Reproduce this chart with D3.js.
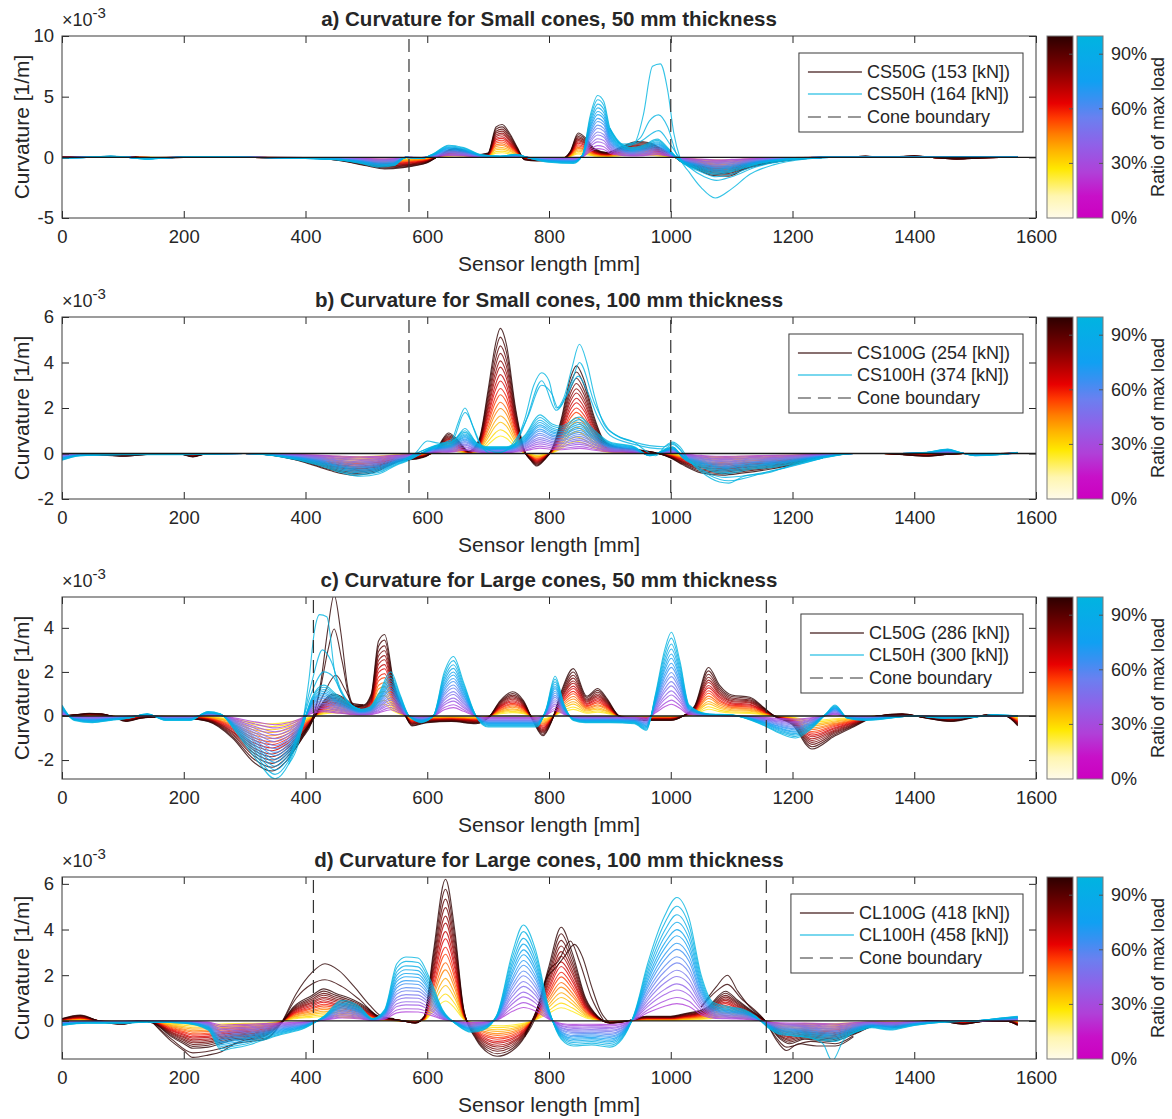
<!DOCTYPE html>
<html><head><meta charset="utf-8">
<script src="https://cdn.jsdelivr.net/npm/d3@7"></script>
<style>
body{margin:0;background:#fff}
svg{display:block}
text{font-family:"Liberation Sans",Arial,Helvetica,sans-serif;fill:#262626}
</style>
</head><body>
<svg id="chart" width="1172" height="1119"></svg>
<script>
// ---------------- DATA ----------------
const xTicks = [0,200,400,600,800,1000,1200,1400,1600];
const colorbarTicks = [0, 0.3, 0.6, 0.9];
const colorbarTickLabels = ["0%","30%","60%","90%"];
const loadRatios = [0.25,0.30,0.35,0.40,0.45,0.50,0.55,0.60,0.65,0.70,0.75,0.80,0.85,0.90,0.95,1.00];
const curvatureScales = [0.14,0.19,0.25,0.30,0.36,0.41,0.47,0.52,0.58,0.63,0.69,0.74,0.80,0.86,0.93,1.00];

const gColorStops = [[0,"#fffbea"],[0.12,"#fff6b0"],[0.27,"#ffe800"],[0.37,"#ffb400"],[0.46,"#ff7d00"],[0.55,"#ff3a00"],[0.63,"#e80000"],[0.82,"#800000"],[1,"#2c0000"]];
const hColorStops = [[0,"#cc00c0"],[0.12,"#c810c8"],[0.25,"#b040d8"],[0.4,"#9060e8"],[0.55,"#6a80f0"],[0.65,"#3a90f2"],[0.75,"#10a0f2"],[1,"#00b4e0"]];

const panelTitles = [
  "a) Curvature for Small cones, 50 mm thickness",
  "b) Curvature for Small cones, 100 mm thickness",
  "c) Curvature for Large cones, 50 mm thickness",
  "d) Curvature for Large cones, 100 mm thickness"];
const gLabels = ["CS50G (153 [kN])","CS100G (254 [kN])","CL50G (286 [kN])","CL100G (418 [kN])"];
const hLabels = ["CS50H (164 [kN])","CS100H (374 [kN])","CL50H (300 [kN])","CL100H (458 [kN])"];
const coneLabel = "Cone boundary";
const yDomains = [[-5,10],[-2,6],[-2.86,5.4],[-1.67,6.3]];
const yTickValues = [[-5,0,5,10],[-2,0,2,4,6],[-2,0,2,4],[0,2,4,6]];
const coneBoundaries = [[570,1000],[570,1000],[413,1157],[413,1157]];

// curvature (x10^-3 1/m) vs sensor length (mm), shape at max load
const csG50 = [[0,0],[40,0.02],[80,0.08],[120,0],[160,-0.05],[200,0],[240,0.03],[300,0],[360,-0.05],[420,-0.1],[460,-0.3],[500,-0.7],[530,-0.95],[560,-0.85],[580,-0.7],[600,-0.45],[615,0],[630,0.5],[645,0.75],[660,0.6],[680,0.2],[700,0.35],[713,2.5],[723,2.7],[735,2.0],[748,0.8],[760,-0.2],[780,-0.3],[820,-0.2],[835,0.5],[848,2.0],[860,1.6],[875,0.7],[895,0.4],[920,0.9],[945,1.3],[965,1.2],[985,0.7],[1000,0.3],[1015,-0.3],[1040,-0.9],[1070,-1.5],[1095,-1.55],[1120,-1.0],[1150,-0.6],[1200,-0.2],[1250,0],[1300,0.05],[1320,0.1],[1350,0],[1400,0.12],[1430,0],[1470,-0.15],[1510,-0.05],[1540,0],[1570,0.05]];
const csH50 = [[0,-0.05],[40,0],[80,0.1],[110,0],[140,-0.15],[170,-0.05],[230,0.05],[300,0],[400,-0.1],[450,-0.2],[490,-0.5],[520,-0.8],[545,-0.7],[565,0],[590,-0.1],[610,0.3],[635,1.0],[660,0.8],[690,0.2],[720,0.1],[745,0.25],[770,-0.1],[800,-0.4],[840,-0.5],[855,0.2],[868,3.5],[880,5.1],[890,4.6],[900,2.4],[915,1.2],[935,0.8],[955,1.0],[978,1.5],[995,0.8],[1015,-0.3],[1045,-1.0],[1075,-1.4],[1100,-1.2],[1140,-0.6],[1200,-0.15],[1250,0],[1570,0]];
const csH50Top = [
  {r:1.00, pts:[[900,2.4],[920,1.1],[940,1.2],[955,3.5],[970,7.5],[983,7.7],[995,5.5],[1005,2.0],[1015,0],[1030,-1.2],[1050,-2.5],[1073,-3.35],[1100,-2.6],[1130,-1.4],[1170,-0.6],[1220,-0.15],[1260,0]]},
  {r:0.98, pts:[[900,2.4],[925,1.0],[950,1.6],[965,3.0],[980,3.5],[995,2.5],[1010,0.2],[1030,-0.8],[1055,-1.6],[1075,-1.9],[1100,-1.6],[1140,-0.8],[1200,-0.2],[1260,0]]},
  {r:0.96, pts:[[900,2.3],[925,0.9],[950,1.3],[980,2.2],[1000,1.0],[1020,-0.4],[1050,-1.2],[1075,-1.6],[1100,-1.4],[1140,-0.7],[1200,-0.2],[1260,0]]}];

const csG100 = [[0,-0.05],[50,-0.05],[100,-0.12],[150,-0.02],[190,0],[215,-0.15],[240,0],[300,0],[350,-0.1],[400,-0.4],[440,-0.75],[480,-0.95],[510,-0.85],[540,-0.5],[560,-0.3],[580,-0.25],[600,-0.1],[615,0.2],[635,0.9],[650,0.6],[668,0.1],[685,0.6],[700,2.8],[712,4.8],[720,5.5],[730,4.8],[745,2.0],[760,0.1],[770,-0.3],[780,-0.55],[792,-0.3],[805,0.2],[820,1.5],[835,3.3],[845,3.85],[858,3.2],[872,1.8],[890,0.6],[910,0.3],[950,0.15],[980,0],[1000,-0.2],[1020,-0.5],[1050,-0.85],[1085,-0.95],[1120,-0.85],[1160,-0.7],[1200,-0.5],[1240,-0.2],[1280,0],[1350,0],[1380,-0.05],[1420,-0.12],[1450,-0.05],[1480,0],[1540,0],[1570,0.02]];
const csH100 = [[0,-0.3],[30,-0.1],[100,-0.05],[200,-0.05],[300,0],[360,-0.15],[420,-0.5],[460,-0.85],[490,-1.0],[520,-0.9],[550,-0.5],[570,-0.3],[590,0],[610,0.3],[640,0.5],[662,1.0],[680,0.5],[700,0.3],[730,0.3],[760,0.8],[785,1.7],[805,1.3],[820,1.2],[850,1.6],[875,1.0],[900,0.5],[940,0.3],[965,-0.1],[985,0.1],[1003,0.3],[1020,-0.2],[1050,-0.6],[1090,-0.9],[1130,-0.7],[1170,-0.6],[1210,-0.4],[1260,-0.15],[1300,0],[1380,0],[1420,0.05],[1455,0.2],[1475,0.05],[1500,-0.1],[1540,-0.05],[1570,0.05]];
const csH100Top = [
  {r:1.00, pts:[[560,-0.3],[580,0],[600,0.55],[620,0.45],[640,0.6],[650,1.3],[662,2.0],[675,1.2],[690,0.3],[705,0.0],[720,0.05],[740,0.3],[760,1.5],[775,3.0],[788,3.55],[800,3.2],[812,2.0],[825,2.5],[838,3.8],[850,4.8],[862,4.0],[875,2.5],[890,1.3],[910,0.8],[940,0.5],[960,0.1],[975,-0.1],[990,0.3],[1003,0.5],[1015,0.3],[1030,-0.3],[1050,-0.8],[1080,-1.25],[1095,-1.3],[1120,-1.0],[1160,-0.85],[1200,-0.5],[1250,-0.2]]},
  {r:0.98, pts:[[560,-0.3],[590,0.1],[620,0.4],[640,0.5],[662,1.8],[690,0.3],[720,0.05],[760,1.3],[788,3.2],[812,1.9],[838,3.2],[850,4.0],[875,2.2],[900,1.0],[940,0.5],[990,0.3],[1003,0.45],[1030,-0.3],[1095,-1.2],[1160,-0.8],[1250,-0.2]]},
  {r:0.96, pts:[[560,-0.3],[590,0.1],[620,0.4],[645,0.6],[662,1.1],[680,0.5],[700,0.2],[740,0.3],[765,1.6],[788,3.0],[805,2.6],[815,2.0],[830,2.6],[848,3.4],[862,2.8],[880,1.6],[900,0.8],[940,0.4],[990,0.2],[1003,0.4],[1030,-0.3],[1090,-1.05],[1160,-0.8],[1250,-0.2]]}];

const clG50 = [[0,0],[20,0.05],[45,0.12],[65,0.1],[85,-0.05],[105,-0.25],[130,-0.1],[150,-0.05],[200,-0.1],[240,-0.25],[280,-1.0],[315,-2.1],[345,-2.5],[370,-2.0],[390,-1.2],[410,-0.3],[425,0.5],[445,1.0],[465,0.8],[480,0.5],[495,0.5],[508,1.0],[520,3.4],[530,3.7],[545,1.5],[560,0.3],[575,-0.45],[600,-0.3],[640,-0.25],[680,-0.35],[700,-0.1],[720,0.7],[740,1.1],[758,0.7],[775,-0.3],[790,-0.9],[805,-0.2],[820,1.1],[840,2.15],[862,0.9],[880,1.25],[895,0.8],[915,0],[940,-0.2],[1000,-0.2],[1020,0],[1040,0.5],[1062,2.2],[1080,1.4],[1100,0.95],[1130,0.85],[1150,0.45],[1170,0],[1200,-0.4],[1232,-1.5],[1270,-0.9],[1300,-0.5],[1340,0],[1380,0.1],[1420,-0.1],[1460,-0.25],[1500,-0.05],[1520,0.05],[1550,0],[1570,-0.45]];
const clG50Top = [
  {r:1.00, pts:[[375,-1.8],[395,-1.0],[410,-0.3],[425,1.5],[437,4.0],[447,5.5],[458,3.8],[470,1.2],[482,0.4],[495,0.5]]},
  {r:0.98, pts:[[375,-1.6],[395,-0.9],[410,-0.2],[425,1.3],[437,3.0],[447,3.95],[460,2.5],[475,0.6],[495,0.5]]},
  {r:0.96, pts:[[375,-1.5],[395,-0.8],[410,-0.2],[430,1.0],[450,1.85],[465,1.2],[480,0.5],[495,0.5]]}];
const clH50 = [[0,0.5],[20,-0.2],[50,-0.3],[80,-0.2],[110,-0.1],[140,0.1],[170,-0.2],[210,-0.2],[240,0.2],[260,0.1],[285,-0.7],[320,-2.0],[350,-2.85],[372,-2.2],[392,-0.8],[410,0.8],[430,1.4],[450,1.0],[470,0.6],[490,0.3],[505,0.4],[520,1.0],[540,2.0],[555,1.0],[570,0],[590,-0.3],[610,0],[628,2.0],[643,2.7],[660,1.5],[680,0],[700,-0.5],[740,-0.5],[780,-0.5],[795,0.3],[810,1.8],[825,0.5],[840,-0.2],[860,-0.3],[900,-0.3],[940,-0.35],[960,-0.65],[975,1.0],[990,3.0],[1001,3.8],[1015,2.5],[1030,0.5],[1060,0.1],[1100,0.05],[1150,-0.4],[1180,-0.8],[1205,-1.0],[1230,-0.6],[1255,0.1],[1270,0.5],[1290,-0.1],[1320,-0.2],[1400,0],[1450,-0.1],[1500,-0.05],[1530,0.05],[1570,0]];
const clH50Top = [
  {r:1.00, pts:[[372,-2.2],[392,-0.8],[405,1.5],[415,3.9],[423,4.6],[435,4.5],[448,2.0],[465,0.8],[490,0.3]]},
  {r:0.98, pts:[[372,-2.1],[392,-0.6],[410,1.5],[428,3.0],[442,2.5],[458,1.2],[475,0.5],[490,0.3]]},
  {r:0.96, pts:[[372,-2.0],[392,-0.5],[412,1.2],[430,2.0],[445,1.8],[460,1.0],[480,0.4],[490,0.3]]}];

const clG100 = [[0,0.1],[30,0.25],[60,0],[100,-0.15],[130,0],[150,-0.1],[180,-0.7],[200,-1.0],[215,-1.2],[240,-1.15],[260,-1.0],[280,-0.85],[300,-0.8],[330,-0.7],[360,-0.1],[380,0.6],[410,1.1],[430,1.4],[450,1.2],[480,0.9],[500,0.6],[520,0.2],[540,0.1],[560,0.0],[580,-0.1],[595,0.2],[610,3.0],[630,6.2],[645,4.0],[660,0.5],[680,-0.8],[700,-1.4],[715,-1.55],[740,-1.3],[760,-0.7],[780,0.5],[800,2.4],[820,4.1],[838,3.0],[860,1.0],[880,0.2],[900,-0.1],[930,0.0],[960,0.2],[1000,0.2],[1020,0.3],[1060,0.6],[1090,1.3],[1110,0.9],[1130,0.5],[1155,0],[1180,-0.8],[1195,-1.0],[1220,-0.8],[1260,-0.9],[1300,-0.6],[1340,-0.2],[1370,-0.3],[1400,-0.1],[1440,0.0],[1480,-0.15],[1520,0],[1550,0],[1570,-0.2]];
const clG100Top = [
  {r:1.00, pts:[[150,-0.1],[180,-0.9],[200,-1.3],[215,-1.6],[240,-1.5],[262,-1.35],[285,-1.0],[310,-0.9],[335,-0.8],[360,-0.1],[385,1.2],[410,2.1],[432,2.5],[455,2.2],[480,1.5],[505,0.7],[525,0.2],[545,0.1]]},
  {r:0.98, pts:[[150,-0.1],[180,-0.8],[215,-1.4],[262,-1.2],[300,-0.85],[335,-0.75],[360,-0.1],[385,1.0],[410,1.6],[432,1.8],[460,1.5],[490,0.9],[520,0.2],[545,0.1]]},
  {r:1.00, pts:[[760,-0.7],[780,0.3],[795,1.8],[810,2.3],[825,2.8],[842,3.35],[855,2.8],[870,1.5],[885,0.4],[900,-0.1]]},
  {r:0.98, pts:[[760,-0.6],[780,0.5],[800,2.2],[815,2.6],[835,3.5],[850,2.6],[870,1.0],[890,0.0]]},
  {r:1.00, pts:[[1050,0.6],[1075,1.5],[1093,2.0],[1110,1.3],[1130,0.6],[1155,0],[1175,-0.9],[1190,-1.3],[1210,-1.0],[1240,-1.1],[1270,-1.1],[1300,-0.7]]},
  {r:0.98, pts:[[1050,0.6],[1075,1.3],[1093,1.6],[1115,1.0],[1155,0],[1175,-0.8],[1190,-1.15],[1230,-0.9],[1270,-1.0],[1300,-0.65]]}];
const clH100 = [[0,-0.2],[40,-0.1],[100,-0.1],[140,-0.05],[200,-0.1],[240,-0.4],[262,-1.3],[280,-1.2],[300,-1.1],[330,-0.85],[360,-0.6],[400,-0.3],[430,0.2],[460,0.9],[490,0.6],[510,0.1],[530,0.5],[550,2.5],[565,2.8],[585,2.75],[605,1.8],[625,0.5],[650,-0.2],[672,-0.5],[692,-0.4],[715,0.3],[740,3.0],[758,4.2],[778,3.1],[800,0.5],[820,-0.8],[840,-1.1],[870,-1.05],[900,-1.15],[920,-0.8],[940,0.3],[962,2.5],[990,4.6],[1010,5.4],[1030,4.5],[1050,2.0],[1070,0.8],[1100,0.6],[1120,0.5],[1140,0.2],[1160,-0.3],[1180,-0.6],[1220,-0.7],[1250,-0.85],[1270,-0.9],[1295,-0.6],[1330,-0.3],[1360,-0.4],[1400,-0.2],[1450,-0.05],[1500,0],[1550,0.15],[1570,0.2]];
const clH100Top = [
  {r:1.00, pts:[[1200,-0.65],[1230,-0.75],[1250,-1.0],[1265,-1.75],[1285,-0.8],[1320,-0.35]]}];

const gSeries = [csG50, csG100, clG50, clG100];
const hSeries = [csH50, csH100, clH50, clH100];
const gTop = [[], [], clG50Top, clG100Top];
const hTop = [csH50Top, csH100Top, clH50Top, clH100Top];

// ---------------- DRAW ----------------
const svg = d3.select("#chart");
const defs = svg.append("defs");
const panelTops = [36, 317, 597, 877];
const plotH = 182, left = 62, right = 1036;
const gBar = [1047, 1073], hBar = [1077, 1103];
const axisColor = "#262626";
const fmt = d => String(d);

function cmap(stops){
  return d3.scaleLinear().domain(stops.map(s=>s[0])).range(stops.map(s=>s[1])).interpolate(d3.interpolateRgb).clamp(true);
}
const gColor = cmap(gColorStops), hColor = cmap(hColorStops);

function gradient(id, stops){
  const lg = defs.append("linearGradient").attr("id", id).attr("x1",0).attr("y1",1).attr("x2",0).attr("y2",0);
  stops.forEach(s=>lg.append("stop").attr("offset", s[0]).attr("stop-color", s[1]));
}
gradient("gradG", gColorStops);
gradient("gradH", hColorStops);

const x = d3.scaleLinear().domain([0,1600]).range([left,right]);

panelTops.forEach((top, i) => {
  const bottom = top + plotH;
  const y = d3.scaleLinear().domain(yDomains[i]).range([bottom, top]);
  const g = svg.append("g");
  defs.append("clipPath").attr("id","clip"+i).append("rect")
    .attr("x", left).attr("y", top).attr("width", right-left).attr("height", plotH);
  const line = d3.line().x(d=>x(d[0])).y(d=>y(d[1])).curve(d3.curveMonotoneX);
  const plot = g.append("g").attr("clip-path", `url(#clip${i})`);

  function drawSeries(base, tops, color){
    loadRatios.forEach((r,k) => {
      plot.append("path").attr("d", line(base.map(p=>[p[0], p[1]*curvatureScales[k]])))
        .attr("fill","none").attr("stroke", color(r)).attr("stroke-width",1.1).attr("stroke-opacity",0.8);
    });
    tops.forEach(t => {
      plot.append("path").attr("d", line(t.pts))
        .attr("fill","none").attr("stroke", color(t.r)).attr("stroke-width",1.1).attr("stroke-opacity",0.8);
    });
  }
  drawSeries(gSeries[i], gTop[i], gColor);
  drawSeries(hSeries[i], hTop[i], hColor);

  // zero line
  plot.append("line").attr("x1", left).attr("x2", right).attr("y1", y(0)).attr("y2", y(0))
    .attr("stroke","#1a1a1a").attr("stroke-width",1.3);
  // cone boundaries
  coneBoundaries[i].forEach(c => {
    g.append("line").attr("x1", x(c)).attr("x2", x(c)).attr("y1", top+3).attr("y2", bottom)
      .attr("stroke","#333").attr("stroke-width",1.2).attr("stroke-dasharray","13,7");
  });

  // axes
  const ax = [
    d3.axisBottom(x).tickValues(xTicks).tickSize(-7).tickSizeOuter(0).tickPadding(12).tickFormat(fmt),
    d3.axisTop(x).tickValues(xTicks).tickSize(-7).tickSizeOuter(0).tickFormat(""),
    d3.axisLeft(y).tickValues(yTickValues[i]).tickSize(-7).tickSizeOuter(0).tickPadding(8).tickFormat(fmt),
    d3.axisRight(y).tickValues(yTickValues[i]).tickSize(-7).tickSizeOuter(0).tickFormat("")
  ];
  const pos = [`translate(0,${bottom})`, `translate(0,${top})`, `translate(${left},0)`, `translate(${right},0)`];
  ax.forEach((a,k) => {
    const ag = g.append("g").attr("transform", pos[k]).call(a);
    ag.select(".domain").remove();
    ag.selectAll(".tick line").attr("stroke", axisColor);
    ag.selectAll("text").attr("font-size", 18.5).attr("fill", axisColor).style("font-family",'"Liberation Sans",Arial,sans-serif');
  });
  g.append("rect").attr("x", left).attr("y", top).attr("width", right-left).attr("height", plotH)
    .attr("fill","none").attr("stroke","#3a3a3a").attr("stroke-width",1);

  // title
  g.append("text").attr("x", (left+right)/2).attr("y", top-10).attr("text-anchor","middle")
    .attr("font-size",20.5).attr("font-weight","bold").attr("fill","#000").text(panelTitles[i]);
  // exponent
  const ex = g.append("text").attr("x", left).attr("y", top-10).attr("font-size",18);
  ex.append("tspan").text("×10");
  ex.append("tspan").attr("font-size",15).attr("dy",-8).text("-3");
  // axis labels
  g.append("text").attr("x", (left+right)/2).attr("y", bottom+53).attr("text-anchor","middle")
    .attr("font-size",21).text("Sensor length [mm]");
  g.append("text").attr("transform", `translate(29,${top+plotH/2}) rotate(-90)`).attr("text-anchor","middle")
    .attr("font-size",21).text("Curvature [1/m]");

  // legend
  const lg = g.append("g");
  const labels = [gLabels[i], hLabels[i], coneLabel];
  const tmp = labels.map(l => lg.append("text").attr("font-size",18).text(l));
  const maxW = d3.max(tmp.map(t => t.node().getComputedTextLength()));
  tmp.forEach(t=>t.remove());
  const boxRight = 1023, textX = boxRight - 13 - maxW;
  const boxTop = top + 17, boxH = 79;
  lg.append("rect").attr("x", textX-68).attr("y", boxTop).attr("width", boxRight-(textX-68)).attr("height", boxH)
    .attr("fill","#fff").attr("stroke","#3a3a3a").attr("stroke-width",1);
  const rowY = [boxTop+19, boxTop+41, boxTop+64];
  lg.append("line").attr("x1", textX-59).attr("x2", textX-5).attr("y1", rowY[0]).attr("y2", rowY[0])
    .attr("stroke", gColor(1)).attr("stroke-opacity",0.75).attr("stroke-width",1.3);
  lg.append("line").attr("x1", textX-59).attr("x2", textX-5).attr("y1", rowY[1]).attr("y2", rowY[1])
    .attr("stroke", hColor(1)).attr("stroke-opacity",0.7).attr("stroke-width",1.6);
  lg.append("line").attr("x1", textX-59).attr("x2", textX-5).attr("y1", rowY[2]).attr("y2", rowY[2])
    .attr("stroke","#333").attr("stroke-width",1.2).attr("stroke-dasharray","13,7");
  labels.forEach((l,k) => lg.append("text").attr("x", textX).attr("y", rowY[k]+6).attr("font-size",18).text(l));

  // colorbars
  const cb = d3.scaleLinear().domain([0,1]).range([bottom, top]);
  [[gBar,"gradG"],[hBar,"gradH"]].forEach(([b,id]) => {
    g.append("rect").attr("x", b[0]).attr("y", top).attr("width", b[1]-b[0]).attr("height", plotH)
      .attr("fill", `url(#${id})`).attr("stroke","#7a7a7a").attr("stroke-width",1);
    colorbarTicks.slice(1).forEach(t => {
      g.append("line").attr("x1", b[1]-4).attr("x2", b[1]).attr("y1", cb(t)).attr("y2", cb(t)).attr("stroke","#555");
    });
  });
  colorbarTicks.forEach((t,k) => {
    g.append("text").attr("x", hBar[1]+8).attr("y", cb(t)+6).attr("font-size",18).text(colorbarTickLabels[k]);
  });
  g.append("text").attr("transform", `translate(1164,${top+plotH/2}) rotate(-90)`).attr("text-anchor","middle")
    .attr("font-size",18).text("Ratio of max load");
});
</script>
</body></html>
